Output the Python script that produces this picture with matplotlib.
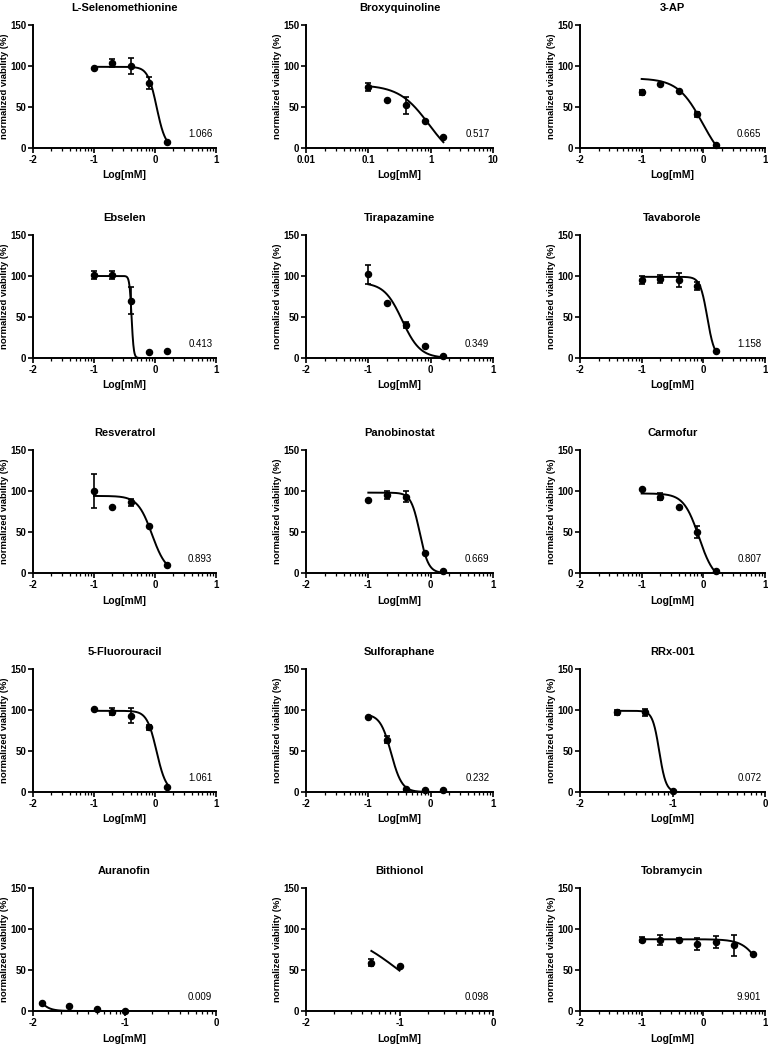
import matplotlib.pyplot as plt
import numpy as np
from matplotlib.ticker import FixedLocator, NullFormatter, FixedFormatter

plt.rcParams['font.family'] = ['Liberation Sans', 'DejaVu Sans']
plt.rcParams['axes.unicode_minus'] = False

# drugs, in reading order
names = ['L-Selenomethionine', 'Broxyquinoline', '3-AP',
         'Ebselen', 'Tirapazamine', 'Tavaborole',
         'Resveratrol', 'Panobinostat', 'Carmofur',
         '5-Fluorouracil', 'Sulforaphane', 'RRx-001',
         'Auranofin', 'Bithionol', 'Tobramycin']
ic50 = ['1.066', '0.517', '0.665',
        '0.413', '0.349', '1.158',
        '0.893', '0.669', '0.807',
        '1.061', '0.232', '0.072',
        '0.009', '0.098', '9.901']

# concentrations, mM
c5 = [0.1, 0.2, 0.4, 0.8, 1.6]
conc = [c5, c5, c5,
        c5, c5, c5,
        c5, c5, c5,
        c5, c5, [0.025, 0.05, 0.1],
        [0.0125, 0.025, 0.05, 0.1], [0.05, 0.1], [0.1, 0.2, 0.4, 0.8, 1.6, 3.2, 6.4]]

# mean normalized viability, %
via = [[98, 104, 100, 79, 7], [74, 58, 52, 33, 13], [68, 78, 70, 41, 4],
       [101, 101, 70, 7, 8], [102, 67, 40, 15, 3], [95, 96, 95, 88, 8],
       [100, 80, 86, 57, 10], [89, 95, 93, 25, 3], [102, 93, 80, 50, 2],
       [101, 98, 93, 79, 6], [91, 64, 4, 2, 2], [97, 97, 1],
       [10, 6, 3, 0], [59, 55], [87, 87, 87, 82, 84, 80, 69]]
err = [[0, 5, 10, 7, 0], [5, 0, 10, 0, 0], [3, 0, 0, 3, 0],
       [5, 5, 16, 0, 0], [12, 0, 4, 0, 0], [5, 5, 9, 5, 0],
       [21, 0, 4, 0, 0], [0, 5, 7, 0, 0], [0, 4, 0, 7, 0],
       [0, 4, 9, 3, 0], [0, 4, 0, 0, 0], [3, 4, 0],
       [0, 0, 0, 0], [4, 0], [3, 6, 2, 7, 7, 13, 0]]

# dose-response fit: top, bottom, log x50, hill
fit = [[99, 0, 0.028, 6], [77, -20, -0.025, 1.8], [85, -25, -0.011, 2.15],
       [100, 0, -0.384, 25], [92, 0, -0.457, 3], [99, 0, 0.064, 7.5],
       [94, 0, -0.049, 3.7], [98, 0, -0.175, 6.2], [97, -10, -0.07, 3.5],
       [99, 0, 0.026, 5.5], [95, 0, -0.635, 5], [99, 0, -1.143, 12],
       [100, 0, -2.046, 6.5], [100, 0, -1.009, 1.5], [87.5, 0, 0.996, 2.9]]

xrng = [(-2, 1)] * 11 + [(-2, 0), (-2, 0), (-2, 0), (-2, 1)]

lefts = [33, 306, 580]
widths = [183, 187, 185]
tops = [25, 235, 450, 669, 888]
W, H = 768, 1044

fig = plt.figure(figsize=(W / 100, H / 100), dpi=100)

for i in range(15):
    r, c = i // 3, i % 3
    ax = fig.add_axes([lefts[c] / W, 1 - (tops[r] + 123) / H, widths[c] / W, 123 / H])
    top, bot, x50, hill = fit[i]
    lx = np.log10(conc[i])
    xs = np.linspace(lx.min(), lx.max(), 300)
    ys = bot + (top - bot) / (1 + 10 ** ((xs - x50) * hill))
    y = np.array(via[i])
    e = np.array(err[i])
    m = e > 0
    if names[i] == 'Broxyquinoline':
        px = np.array(conc[i])
        cx = 10 ** xs
    else:
        px = lx
        cx = xs
    ax.plot(cx, ys, color='black', lw=1.4, clip_on=False, zorder=2)
    ax.errorbar(px[m], y[m], yerr=e[m], fmt='none', ecolor='black', elinewidth=1.2,
                capsize=2.5, capthick=1.2, clip_on=False, zorder=3)
    ax.plot(px, y, 'o', color='black', ms=4.4, clip_on=False, zorder=4)

    ax.set_ylim(0, 150)
    ax.set_yticks([0, 50, 100, 150])
    if names[i] == 'Broxyquinoline':
        ax.set_xscale('log')
        ax.set_xlim(0.01, 10)
        ax.xaxis.set_major_locator(FixedLocator([0.01, 0.1, 1, 10]))
        ax.xaxis.set_major_formatter(FixedFormatter(['0.01', '0.1', '1', '10']))
        mn = [k * 10.0 ** d for d in (-2, -1, 0) for k in range(2, 10)]
        ax.xaxis.set_minor_locator(FixedLocator(mn))
        ax.xaxis.set_minor_formatter(NullFormatter())
    else:
        a, b = xrng[i]
        ax.set_xlim(a, b)
        ax.set_xticks(range(a, b + 1))
        mn = [d + np.log10(k) for d in range(a, b) for k in range(2, 10)]
        ax.xaxis.set_minor_locator(FixedLocator(mn))

    for s in ['top', 'right']:
        ax.spines[s].set_visible(False)
    for s in ['left', 'bottom']:
        ax.spines[s].set_linewidth(1.4)
    ax.tick_params(which='major', direction='out', length=3.5, width=1.2, pad=1.5,
                   labelsize=7)
    ax.tick_params(which='minor', direction='out', length=2, width=0.9)
    ax.tick_params(axis='y', which='minor', left=False)
    for lab in ax.get_xticklabels() + ax.get_yticklabels():
        lab.set_fontweight('bold')

    ax.set_title(names[i], fontsize=8, fontweight='bold', pad=10)
    ax.set_xlabel('Log[mM]', fontsize=7.5, fontweight='bold', labelpad=4)
    ax.set_ylabel('normalized viability (%)', fontsize=6.8, fontweight='bold', labelpad=0.5)
    ax.text(0.98, 17, ic50[i], transform=ax.get_yaxis_transform(), ha='right',
            va='center', fontsize=7)

fig.savefig('out.png', dpi=100)
